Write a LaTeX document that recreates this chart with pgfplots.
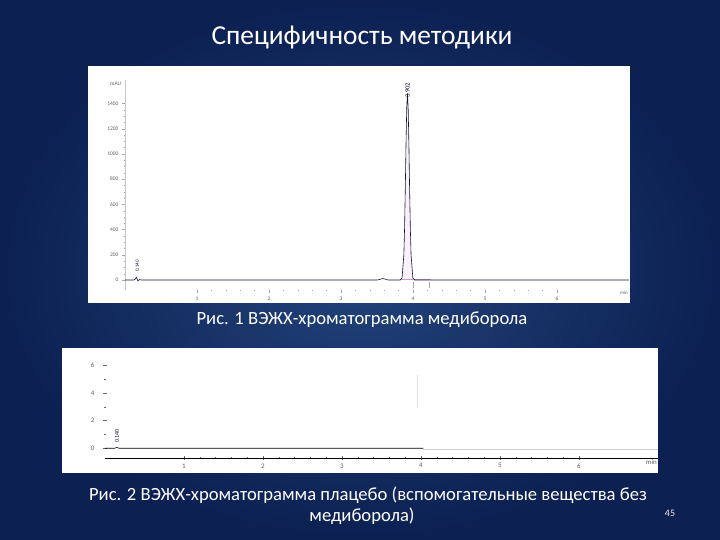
\documentclass[border=0pt]{standalone}
\usepackage{pgfplots}
\pgfplotsset{compat=1.18}
\usepackage{fontspec}
\setmainfont{Carlito}
\definecolor{bgin}{RGB}{34,68,122}
\definecolor{bgout}{RGB}{12,32,82}
\definecolor{trace}{RGB}{20,20,60}
\definecolor{ticklab}{RGB}{95,95,95}
\begin{document}
\begin{tikzpicture}
\shade[inner color=bgin,outer color=bgout] (0bp,0bp) rectangle (720bp,540bp);
\fill[white] (88bp,237bp) rectangle (630bp,474bp);
\fill[white] (62bp,67bp) rectangle (658bp,192bp);
\node[white,font=\fontsize{27.5}{32}\selectfont] at (362bp,502bp) {Специфичность методики};
\node[white,font=\fontsize{18.7}{22}\selectfont] at (362bp,220bp) {Рис. 1 ВЭЖХ-хроматограмма медиборола};
\node[white,font=\fontsize{18.7}{22}\selectfont] at (368bp,45bp) {Рис. 2 ВЭЖХ-хроматограмма плацебо (вспомогательные вещества без};
\node[white,font=\fontsize{18.7}{22}\selectfont] at (362bp,24bp) {медиборола)};
\node[white!85!gray,font=\fontsize{10}{12}\selectfont] at (670bp,27bp) {45};

% ---------- Chart 1 ----------
\begin{axis}[
  at={(125bp,250bp)}, anchor=south west, scale only axis,
  width=504bp, height=210bp,
  xmin=0, xmax=7, ymin=-79, ymax=1586,
  axis x line*=bottom, axis y line*=left,
  x axis line style={draw=none},
  y axis line style={draw=gray!45, line width=0.3pt},
  xtick={1,...,6}, minor x tick num=4,
  ytick={0,200,...,1400}, minor y tick num=3,
  tick align=outside, major tick length=3bp, minor tick length=1.5bp,
  every tick/.style={gray!70, line width=0.3pt},
  tick label style={font=\fontsize{5.5}{6}\selectfont, text=ticklab},
  /pgf/number format/assume math mode=true,
  /pgf/number format/1000 sep={},
  scaled ticks=false,
  clip=false,
]
\addplot[draw=none, fill=violet!5] coordinates {
 (3.823,0) (3.848,16) (3.873,200) (3.883,412) (3.893,720) (3.903,1075) (3.913,1366) (3.923,1480)
 (3.933,1366) (3.943,1075) (3.953,720) (3.963,412) (3.973,200) (3.998,16) (4.023,0)} \closedcycle;
\addplot[violet!40, line width=0.5pt] coordinates {(3.82,4) (4.25,4)};
\addplot[trace, line width=0.6pt] coordinates {
 (0,0) (0.12,0) (0.14,6) (0.16,22) (0.18,-8) (0.2,4) (0.23,0) (1.5,0) (3.5,0)
 (3.54,5) (3.58,12) (3.62,6) (3.66,0)
 (3.823,0) (3.848,16) (3.873,200) (3.883,412) (3.893,720) (3.903,1075) (3.913,1366) (3.923,1480)
 (3.933,1366) (3.943,1075) (3.953,720) (3.963,412) (3.973,200) (3.998,16) (4.023,0) (7,0)};
\addplot[gray!70, line width=0.3pt] coordinates {(4.0,-15) (4.0,-60)};
\addplot[gray!70, line width=0.3pt] coordinates {(4.22,-15) (4.22,-60)};
\node[rotate=90, anchor=west, font=\fontsize{6.5}{7}\selectfont, text=trace, inner sep=0.5pt] at (axis cs:3.923,1440) {3.902};
\node[rotate=90, anchor=west, font=\fontsize{5}{6}\selectfont, text=trace, inner sep=0.5pt] at (axis cs:0.17,60) {0.140};
\node[anchor=east, font=\fontsize{5.5}{6}\selectfont, text=ticklab, inner sep=0pt] at (axis cs:-0.05,1557) {mAU};
\node[anchor=north east, font=\fontsize{5}{6}\selectfont, text=ticklab, inner sep=1pt] at (axis cs:7,-79) {min};
\end{axis}

% ---------- Chart 2 ----------
\begin{axis}[
  at={(105bp,82bp)}, anchor=south west, scale only axis,
  width=553bp, height=106bp,
  xmin=0, xmax=7, ymin=-0.7, ymax=6.94,
  axis x line*=bottom, axis y line*=left,
  x axis line style={draw=black, line width=0.5pt},
  y axis line style={draw=none},
  xtick={1,...,6}, minor x tick num=4,
  ytick={0,2,4,6}, minor y tick num=1,
  tick align=center, major tick length=4bp, minor tick length=2bp,
  every tick/.style={gray!80!black, line width=0.3pt},
  tick label style={font=\fontsize{7}{8}\selectfont, text=ticklab},
  yticklabel style={xshift=-5bp},
  /pgf/number format/assume math mode=true,
  scaled ticks=false,
  clip=false,
]
\addplot[black, line width=0.6pt] coordinates {
 (0,0) (0.12,0) (0.15,0.06) (0.18,0) (2.0,0) (3.5,0) (4.03,0)};
\addplot[gray!35, line width=0.5pt] coordinates {(4.03,-0.05) (7,-0.05)};
\addplot[gray!25, line width=0.5pt] coordinates {(3.95,2.95) (3.95,5.28)};
\node[rotate=90, anchor=west, font=\fontsize{6}{7}\selectfont, text=trace, inner sep=0.5pt] at (axis cs:0.15,0.35) {0.140};
\node[anchor=north east, font=\fontsize{7}{8}\selectfont, text=ticklab, inner sep=1pt] at (axis cs:7,-0.75) {min};
\end{axis}
\pgfresetboundingbox
\useasboundingbox (0bp,0bp) rectangle (720bp,540bp);
\end{tikzpicture}
\end{document}
